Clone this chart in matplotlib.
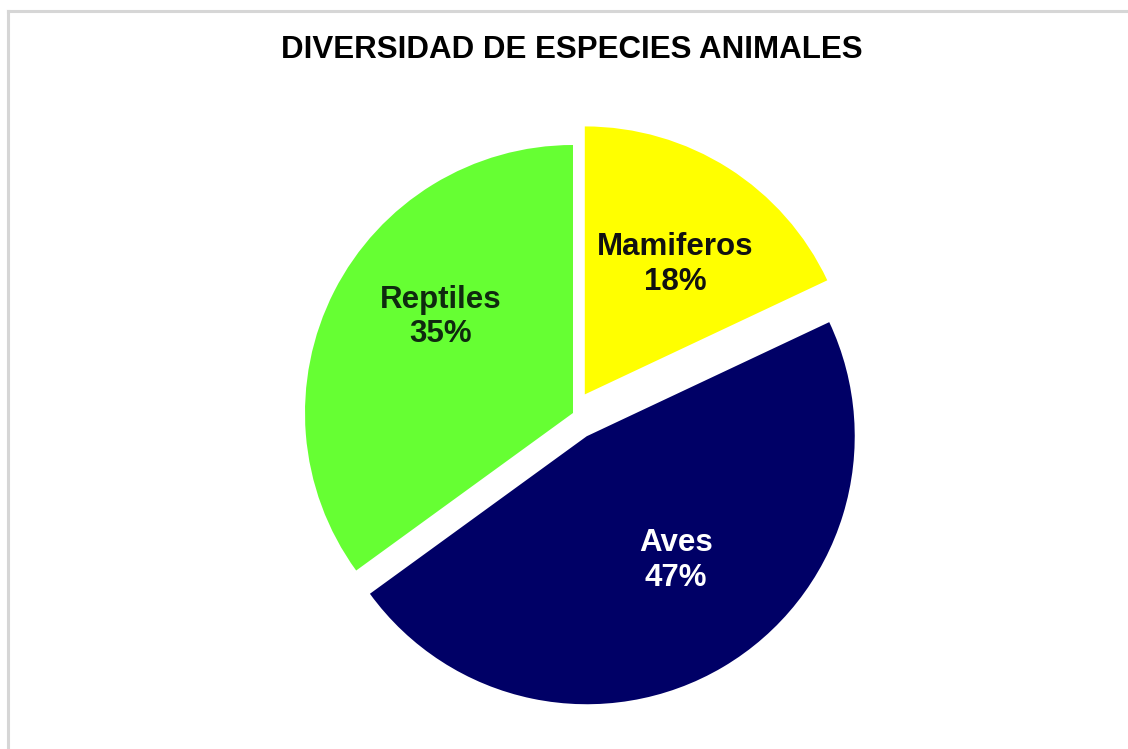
import numpy as np
import matplotlib

matplotlib.use("Agg")
import matplotlib.pyplot as plt
from matplotlib.lines import Line2D

plt.rcParams["font.family"] = ["Liberation Sans", "DejaVu Sans"]

# Data
categories = ["Mamiferos", "Aves", "Reptiles"]
values = [18, 47, 35]
colors = ["#FFFF00", "#000066", "#66FF33"]
text_colors = ["#111111", "#FFFFFF", "#0F2A0F"]
explode_px = [22, 27, 0]
# label placement: (fraction of radius, angle shift in degrees)
label_place = [(0.59, -2.5), (0.57, 5.0), (0.61, -9.0)]

W, H = 1128, 749
fig = plt.figure(figsize=(W / 100, H / 100), dpi=100)
fig.patch.set_facecolor("white")

# axes in pixel units so the pie can be placed exactly
ax = fig.add_axes([0, 0, 1, 1])

wedges, _ = ax.pie(
    values,
    colors=colors,
    startangle=90,
    counterclock=False,
    radius=268,
    center=(573, H - 413),
    explode=explode_px,
    wedgeprops=dict(linewidth=0),
    frame=True,
)
ax.set_xlim(0, W)
ax.set_ylim(0, H)
ax.set_aspect("equal")
ax.axis("off")

# labels inside each wedge
for w, name, val, tc, (frac, shift) in zip(wedges, categories, values, text_colors, label_place):
    ang = np.deg2rad((w.theta1 + w.theta2) / 2 + shift)
    cx, cy = w.center
    d = w.r * frac
    ax.text(
        cx + d * np.cos(ang),
        cy + d * np.sin(ang),
        f"{name}\n{val}%",
        ha="center",
        va="center",
        fontsize=22.5,
        fontweight="bold",
        color=tc,
        linespacing=1.2,
    )

fig.text(
    572 / W, 1 - 50 / H,
    "DIVERSIDAD DE ESPECIES ANIMALES",
    ha="center", va="center",
    fontsize=22.5, fontweight="bold", color="black",
)

# light grey frame (left and top edges)
fig.add_artist(Line2D([8 / W, 8 / W], [0, 1 - 11 / H], color="#d6d6d6", lw=2.2, transform=fig.transFigure))
fig.add_artist(Line2D([8 / W, 1], [1 - 11 / H, 1 - 11 / H], color="#d6d6d6", lw=2.2, transform=fig.transFigure))

fig.savefig("out.png", dpi=100, facecolor="white")
plt.close(fig)
